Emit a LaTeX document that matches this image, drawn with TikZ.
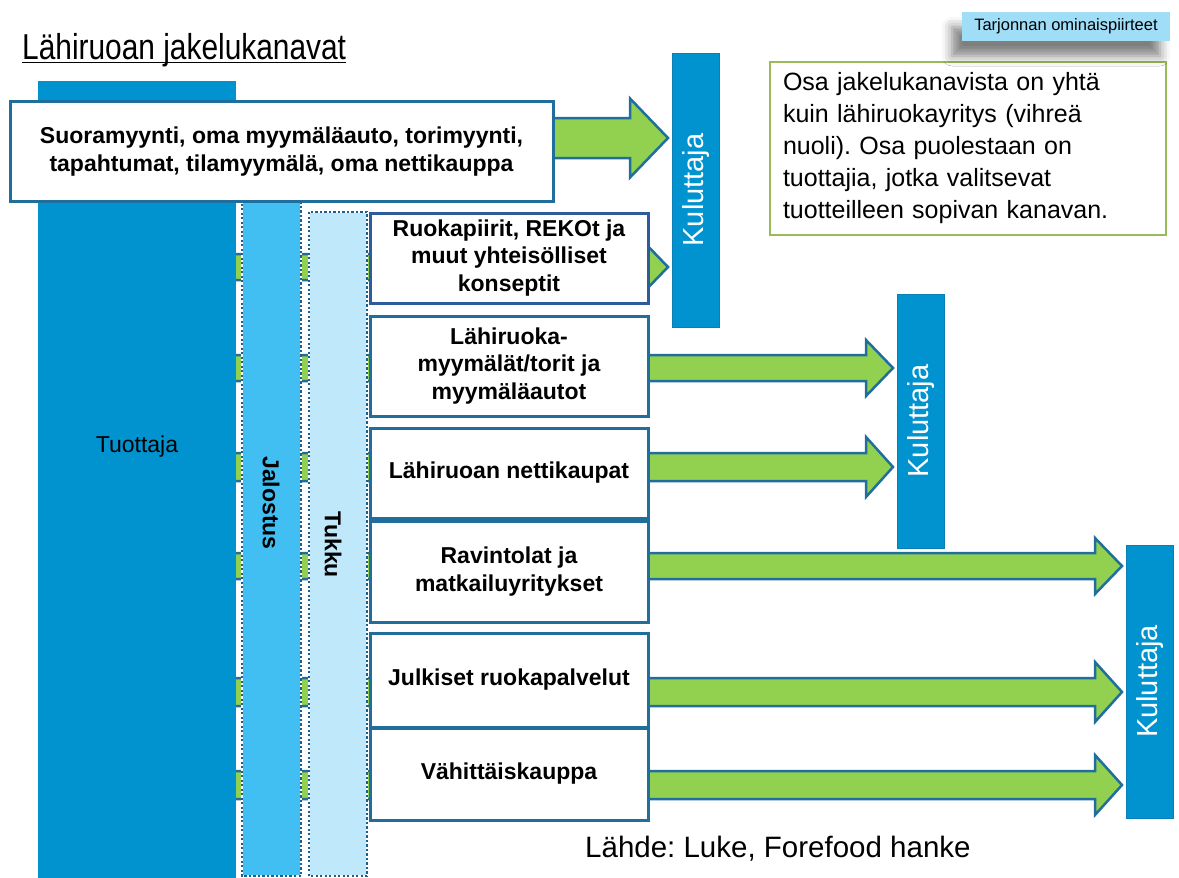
\documentclass[tikz,border=0pt]{standalone}
\usepackage{fontspec}
\setmainfont{Liberation Sans}
\newfontfamily\titlefont[FakeStretch=0.83]{Liberation Sans}
\usetikzlibrary{shadows.blur}
\frenchspacing
\definecolor{tuot}{HTML}{0093D0}
\definecolor{jal}{HTML}{41BEF2}
\definecolor{tuk}{HTML}{BFE8FB}
\definecolor{agreen}{HTML}{92D050}
\definecolor{aline}{HTML}{1F6E9C}
\definecolor{dotc}{HTML}{1A5F8E}
\definecolor{navy}{HTML}{2E5C9A}
\definecolor{tbgreen}{HTML}{9BBB59}
\definecolor{tagc}{HTML}{A0DDF7}
\definecolor{kbord}{HTML}{0B7FB5}
\newcommand{\blockarr}[6]{\draw[barr] (#1,#3-#4) -- (#2-#6,#3-#4) -- (#2-#6,#3-#5) -- (#2,#3) -- (#2-#6,#3+#5) -- (#2-#6,#3+#4) -- (#1,#3+#4) -- cycle;}
\begin{document}
\begin{tikzpicture}[x=1pt,y=-1pt,
  barr/.style={fill=agreen, draw=aline, line width=2.5pt, line join=miter},
  chbox/.style={draw=aline, fill=white, line width=3pt, align=center, inner sep=0pt,
    minimum width=278, font=\bfseries\fontsize{23}{27.5}\selectfont},
  kul/.style={fill=tuot, draw=kbord, line width=1pt, minimum width=47, inner sep=0pt},
  kultext/.style={text=white, rotate=90, font=\fontsize{29}{32}\selectfont},
  barborder/.style={draw=white, line width=2.6pt},
  bardots/.style={draw=dotc, line width=2.4pt, dash pattern=on 2.2pt off 2.3pt},
  bartext/.style={rotate=-90, font=\bfseries\fontsize{23}{26}\selectfont}
]
\useasboundingbox (0,0) rectangle (1179,878);
% arrows (behind bars and boxes)
\blockarr{400}{668}{138}{20}{39.5}{38}
\blockarr{150}{668}{267}{13}{28}{27}
\blockarr{150}{893}{368}{13}{28}{27}
\blockarr{150}{893}{467}{14}{30}{27}
\blockarr{150}{1122}{566}{13}{28}{27}
\blockarr{150}{1122}{692}{14}{30}{27}
\blockarr{150}{1122}{785}{14}{30}{27}
% producer bar
\fill[tuot] (38,81) rectangle (236,878);
\node[font=\fontsize{23}{26}\selectfont] (tuottaja) at (137,447) {Tuottaja};
% processing bar
\path[fill=jal, barborder] (242,190) rectangle (301,876);
\draw[bardots] (242,190) rectangle (301,876);
\node[bartext] (jalostus) at (271,503) {Jalostus};
% wholesale bar
\path[fill=tuk, barborder] (309,212) rectangle (367,876);
\draw[bardots] (309,212) rectangle (367,876);
\node[bartext] (tukku) at (333,545) {Tukku};
% channel boxes
\node[chbox, minimum width=543, minimum height=100] (b1) at (281.5,151.5)
  {Suoramyynti, oma myymäläauto, torimyynti,\\tapahtumat, tilamyymälä, oma nettikauppa};
\node[chbox, draw=navy, minimum height=90] (b2) at (509,258)
  {Ruokapiirit, REKOt ja\\muut yhteisölliset\\konseptit};
\node[chbox, minimum height=100] (b3) at (509,366)
  {Lähiruoka-\\myymälät/torit ja\\myymäläautot};
\node[chbox, minimum height=90] (b4) at (509,473) {Lähiruoan nettikaupat};
\node[chbox, minimum height=101] (b5) at (509,571.5) {Ravintolat ja\\matkailuyritykset};
\node[chbox, minimum height=94] (b6) at (509,680) {Julkiset ruokapalvelut};
\node[chbox, minimum height=92] (b7) at (509,774) {Vähittäiskauppa};
% consumer bars
\node[kul, minimum height=274] (k1) at (696,190) {};
\node[kultext] at (k1) {Kuluttaja};
\node[kul, minimum height=254] (k2) at (920.5,421) {};
\node[kultext] at (k2) {Kuluttaja};
\node[kul, minimum height=273] (k3) at (1149.5,681.5) {};
\node[kultext] at (k3) {Kuluttaja};
% info box
\node[draw=tbgreen, line width=1.8pt, fill=white, minimum width=396, minimum height=173,
  text width=370, align=left, inner xsep=13, font=\fontsize{25}{32}\selectfont] (info) at (968,148.5)
  {Osa jakelukanavista on yhtä\\kuin lähiruokayritys (vihreä\\nuoli). Osa puolestaan on\\tuottajia, jotka valitsevat\\tuotteilleen sopivan kanavan.};
% tag
\node[fill=tagc, minimum width=208, minimum height=29, inner sep=0pt,
  font=\fontsize{16.5}{18}\selectfont,
  blur shadow={shadow xshift=-10pt, shadow yshift=-15pt, shadow blur radius=10pt, shadow opacity=50}] (tag) at (1066,26.5) {Tarjonnan ominaispiirteet};
% title and source
\node[anchor=base west, inner sep=0pt, font=\titlefont\fontsize{36}{40}\selectfont] (title) at (22,59) {Lähiruoan jakelukanavat};
\draw[line width=1.5pt] ([yshift=-3.5pt]title.base west) -- ([yshift=-3.5pt]title.base east);
\node[anchor=base west, inner sep=0pt, font=\fontsize{29.5}{32}\selectfont] (src) at (585,857) {Lähde: Luke, Forefood hanke};
\end{tikzpicture}
\end{document}
